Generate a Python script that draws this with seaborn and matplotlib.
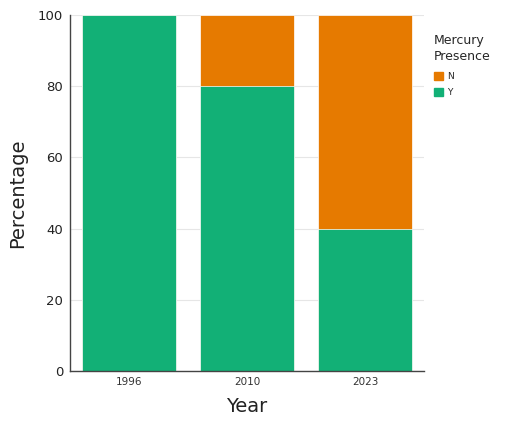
import matplotlib
matplotlib.use("Agg")
import matplotlib.pyplot as plt
import matplotlib.patches as mpatches
import seaborn as sns
import pandas as pd

years = ["1996", "2010", "2023"]
pct_y = [100, 80, 40]
pct_n = [0, 20, 60]

green = "#12b076"
orange = "#e67a00"

sns.set_style("white")
plt.rcParams["font.family"] = ["DejaVu Sans"]

df = pd.DataFrame({"Year": years, "Y": pct_y, "N": pct_n})
df["total"] = df["Y"] + df["N"]

fig = plt.figure(figsize=(5.08, 4.26), dpi=100)
ax = fig.add_axes([0.138, 0.129, 0.697, 0.836])

# stacked: draw total (orange) first, then green Y on top
sns.barplot(data=df, x="Year", y="total", color=orange, width=0.8,
            saturation=1, ax=ax, edgecolor="white", linewidth=0.5)
sns.barplot(data=df, x="Year", y="Y", color=green, width=0.8,
            saturation=1, ax=ax, edgecolor="white", linewidth=0.5)

ax.set_ylim(0, 100)
ax.set_xlim(-0.5, 2.5)
ax.set_yticks([0, 20, 40, 60, 80, 100])
ax.yaxis.grid(True, color="#e6e6e6", linewidth=0.8)
ax.set_axisbelow(True)
ax.tick_params(axis="y", labelsize=9.5, length=3, color="#333333", width=0.8,
               colors="#222222", pad=2)
ax.tick_params(axis="x", labelsize=7.5, length=3, color="#333333", width=0.8,
               colors="#333333", pad=1.5)
sns.despine(ax=ax)
for s in ["left", "bottom"]:
    ax.spines[s].set_color("#444444")
    ax.spines[s].set_linewidth(1.0)

ax.set_xlabel("Year", fontsize=14, color="#222222", labelpad=7)
ax.set_ylabel("Percentage", fontsize=14, color="#222222", labelpad=8)

handles = [mpatches.Patch(color=orange, label="N"),
           mpatches.Patch(color=green, label="Y")]
leg = ax.legend(handles=handles, title="Mercury\nPresence", loc="upper left",
                bbox_to_anchor=(1.01, 0.965), frameon=False, fontsize=6.5,
                title_fontsize=9, handlelength=1.0, handleheight=1.0,
                handletextpad=0.4, labelspacing=0.85, borderaxespad=0.3)
leg._legend_box.align = "left"
leg._legend_box.sep = 6
leg.get_title().set_linespacing(1.35)

fig.savefig("out.png", dpi=100, facecolor="white")
